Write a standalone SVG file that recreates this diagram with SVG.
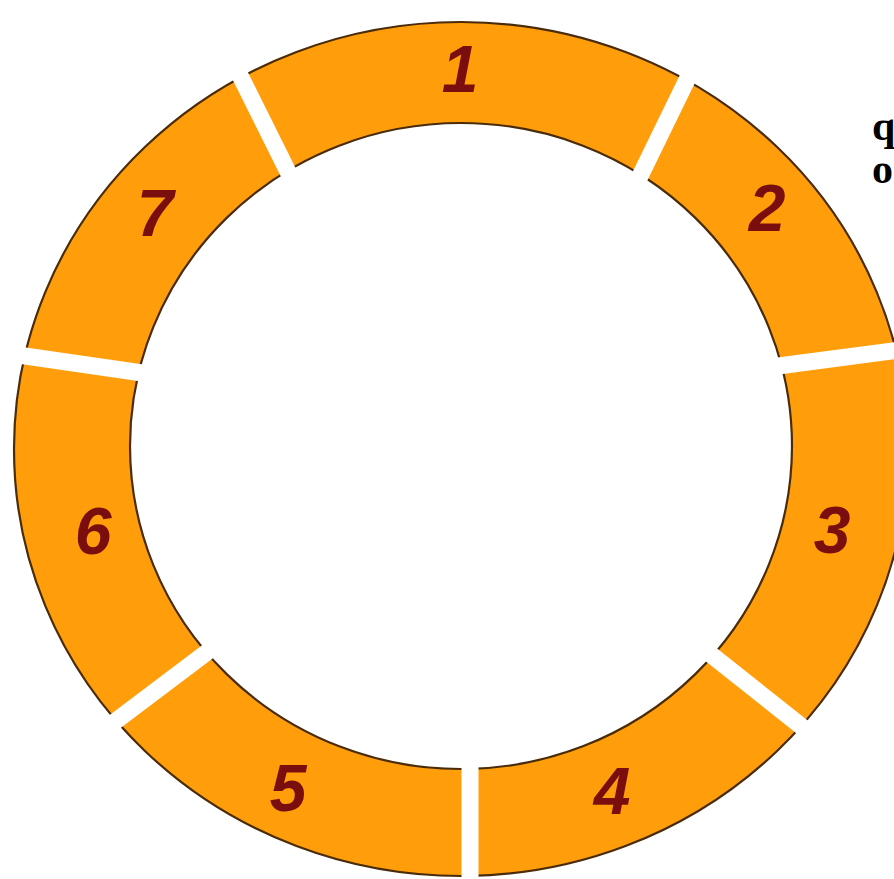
<svg xmlns="http://www.w3.org/2000/svg" width="894" height="879" viewBox="0 0 894 879">
<style>
.seg{fill:#FF9E0A;fill-rule:evenodd;stroke:#4a2c0a;stroke-width:2.2}
.lbl{font-family:"Liberation Sans",Arial,sans-serif;font-weight:bold;font-style:italic;font-size:66px;fill:#7a0e0e;text-anchor:middle}
.gap{stroke:#ffffff;stroke-width:17;stroke-linecap:butt}
.side{font-family:"Liberation Serif","Times New Roman",serif;font-weight:bold;font-size:42px;fill:#000}
</style>
<defs>
<path id="ring" d="M 14 449 A 447 427 0 1 0 908 449 A 447 427 0 1 0 14 449 Z M 130 446 A 331 323 0 1 0 792 446 A 331 323 0 1 0 130 446 Z"/>
<clipPath id="c1"><polygon points="461,447 310,216 -127,-651 1038,-638 625,207"/></clipPath>
<clipPath id="c2"><polygon points="461,447 625,207 1038,-638 1687,247 740,371"/></clipPath>
<clipPath id="c3"><polygon points="461,447 740,371 1687,247 1428,1220 680,630"/></clipPath>
<clipPath id="c4"><polygon points="461,447 680,630 1428,1220 470,1500 470,740"/></clipPath>
<clipPath id="c5"><polygon points="461,447 470,740 470,1500 -530,1205 235,631"/></clipPath>
<clipPath id="c6"><polygon points="461,447 235,631 -530,1205 -791,236 170,377"/></clipPath>
<clipPath id="c7"><polygon points="461,447 170,377 -791,236 -127,-651 310,216"/></clipPath>
</defs>
<rect width="894" height="879" fill="#ffffff"/>
<g id="node1"><use href="#ring" class="seg" clip-path="url(#c1)"/><text class="lbl" x="460" y="92">1</text></g>
<g id="node2"><use href="#ring" class="seg" clip-path="url(#c2)"/><text class="lbl" x="767" y="231">2</text></g>
<g id="node3"><use href="#ring" class="seg" clip-path="url(#c3)"/><text class="lbl" x="832" y="553">3</text></g>
<g id="node4"><use href="#ring" class="seg" clip-path="url(#c4)"/><text class="lbl" x="612" y="814">4</text></g>
<g id="node5"><use href="#ring" class="seg" clip-path="url(#c5)"/><text class="lbl" x="288" y="811">5</text></g>
<g id="node6"><use href="#ring" class="seg" clip-path="url(#c6)"/><text class="lbl" x="93" y="554">6</text></g>
<g id="node7"><use href="#ring" class="seg" clip-path="url(#c7)"/><text class="lbl" x="155" y="236">7</text></g>
<g id="connectors">
<line class="gap" x1="310" y1="216" x2="190" y2="-25"/>
<line class="gap" x1="625" y1="207" x2="720" y2="12"/>
<line class="gap" x1="740" y1="371" x2="930" y2="346"/>
<line class="gap" x1="680" y1="630" x2="830" y2="749"/>
<line class="gap" x1="470" y1="740" x2="470" y2="900"/>
<line class="gap" x1="235" y1="631" x2="80" y2="748"/>
<line class="gap" x1="170" y1="377" x2="-30" y2="348"/>
</g>
<text class="side" x="872" y="140">q</text>
<text class="side" x="872" y="183">o</text>
</svg>
